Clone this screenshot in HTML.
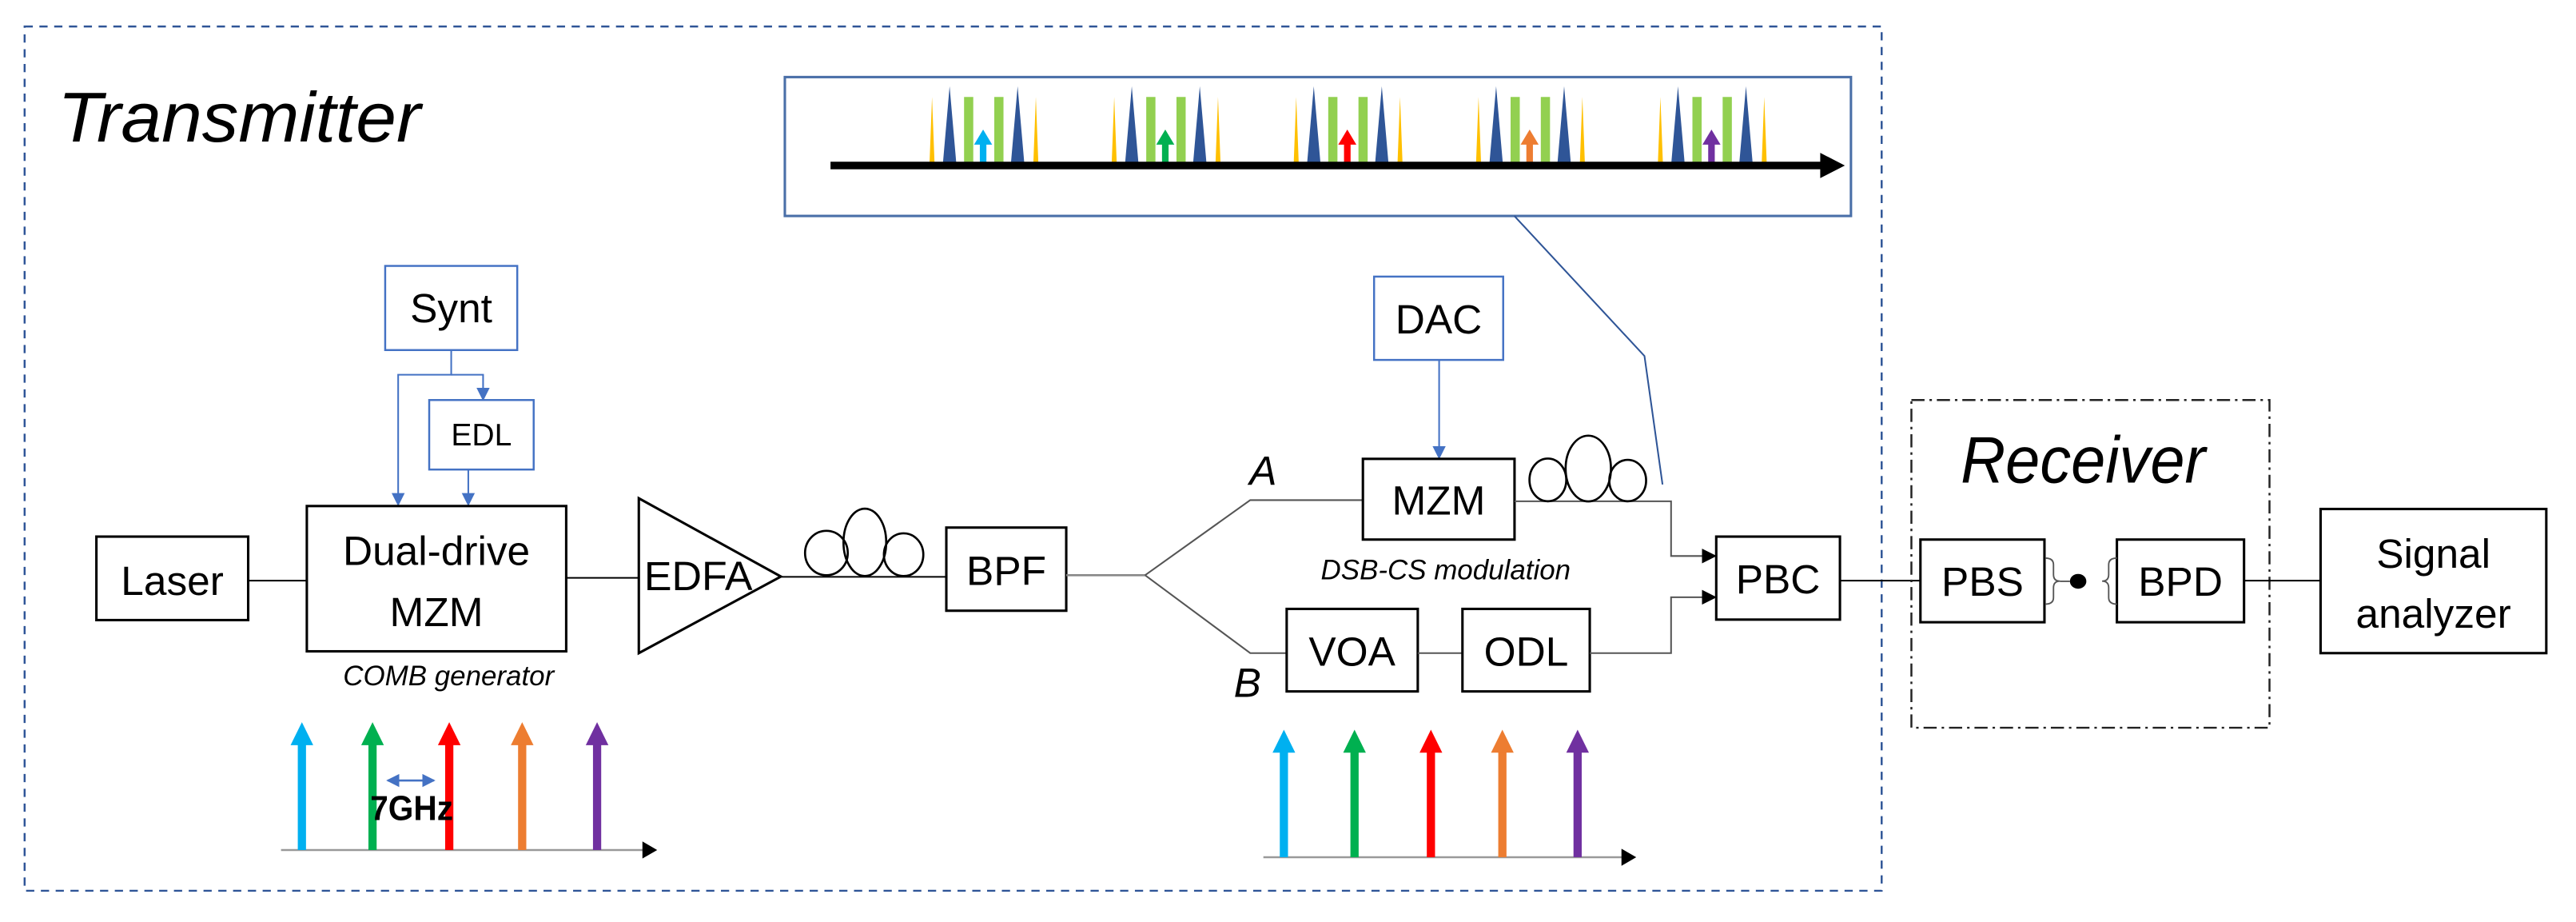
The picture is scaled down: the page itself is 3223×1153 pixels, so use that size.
<!DOCTYPE html>
<html><head><meta charset="utf-8"><style>
html,body{margin:0;padding:0;background:#fff;}
svg{display:block;}
text{font-family:"Liberation Sans",sans-serif;fill:#000;}
.n{font-size:25px;}
.it{font-style:italic;}
</style></head><body>
<svg width="3223" height="1153" viewBox="0 0 1568 561" xmlns="http://www.w3.org/2000/svg">
<defs>
<marker id="ab" markerWidth="8" markerHeight="8" refX="7" refY="4" orient="auto" markerUnits="userSpaceOnUse"><path d="M0,0 L8,4 L0,8 z" fill="#4472c4"/></marker>
<marker id="abs" markerWidth="8" markerHeight="8" refX="1" refY="4" orient="auto" markerUnits="userSpaceOnUse"><path d="M8,0 L0,4 L8,8 z" fill="#4472c4"/></marker>
<marker id="ak" markerWidth="9" markerHeight="9" refX="8" refY="4.5" orient="auto" markerUnits="userSpaceOnUse"><path d="M0,0 L9,4.5 L0,9 z" fill="#000"/></marker>
</defs>
<rect width="1568" height="561" fill="#fff"/>
<!-- outer dashed -->
<rect x="14.9" y="16.1" width="1130.5" height="525.9" fill="none" stroke="#2f5597" stroke-width="1.2" stroke-dasharray="5,4"/>
<text x="35" y="86" font-size="43" class="it" textLength="221" lengthAdjust="spacingAndGlyphs">Transmitter</text>
<!-- inset -->
<rect x="477.7" y="46.9" width="649" height="84.5" fill="none" stroke="#4a6fa8" stroke-width="1.5"/>
<g id="spk">
</g>
<g>
<!-- groups -->
<g transform="translate(567.3,0)">
<polygon points="-1.5,98.5 0,59 1.5,98.5" fill="#ffc000"/><polygon points="6.7,98.5 10.7,52.5 14.7,98.5" fill="#2f5597"/><rect x="19.5" y="59" width="5.6" height="39.5" fill="#92d050"/><rect x="37.9" y="59" width="5.6" height="39.5" fill="#92d050"/><polygon points="48.1,98.5 52.1,52.5 56.1,98.5" fill="#2f5597"/><polygon points="61.7,98.5 63.2,59 64.7,98.5" fill="#ffc000"/>
<polygon points="25.6,88 31.1,78.8 36.6,88" fill="#00b0f0"/><rect x="29.1" y="87" width="4" height="12" fill="#00b0f0"/></g>
<g transform="translate(678.2,0)">
<polygon points="-1.5,98.5 0,59 1.5,98.5" fill="#ffc000"/><polygon points="6.7,98.5 10.7,52.5 14.7,98.5" fill="#2f5597"/><rect x="19.5" y="59" width="5.6" height="39.5" fill="#92d050"/><rect x="37.9" y="59" width="5.6" height="39.5" fill="#92d050"/><polygon points="48.1,98.5 52.1,52.5 56.1,98.5" fill="#2f5597"/><polygon points="61.7,98.5 63.2,59 64.7,98.5" fill="#ffc000"/>
<polygon points="25.6,88 31.1,78.8 36.6,88" fill="#00b050"/><rect x="29.1" y="87" width="4" height="12" fill="#00b050"/></g>
<g transform="translate(789,0)">
<polygon points="-1.5,98.5 0,59 1.5,98.5" fill="#ffc000"/><polygon points="6.7,98.5 10.7,52.5 14.7,98.5" fill="#2f5597"/><rect x="19.5" y="59" width="5.6" height="39.5" fill="#92d050"/><rect x="37.9" y="59" width="5.6" height="39.5" fill="#92d050"/><polygon points="48.1,98.5 52.1,52.5 56.1,98.5" fill="#2f5597"/><polygon points="61.7,98.5 63.2,59 64.7,98.5" fill="#ffc000"/>
<polygon points="25.6,88 31.1,78.8 36.6,88" fill="#ff0000"/><rect x="29.1" y="87" width="4" height="12" fill="#ff0000"/></g>
<g transform="translate(900,0)">
<polygon points="-1.5,98.5 0,59 1.5,98.5" fill="#ffc000"/><polygon points="6.7,98.5 10.7,52.5 14.7,98.5" fill="#2f5597"/><rect x="19.5" y="59" width="5.6" height="39.5" fill="#92d050"/><rect x="37.9" y="59" width="5.6" height="39.5" fill="#92d050"/><polygon points="48.1,98.5 52.1,52.5 56.1,98.5" fill="#2f5597"/><polygon points="61.7,98.5 63.2,59 64.7,98.5" fill="#ffc000"/>
<polygon points="25.6,88 31.1,78.8 36.6,88" fill="#ed7d31"/><rect x="29.1" y="87" width="4" height="12" fill="#ed7d31"/></g>
<g transform="translate(1010.7,0)">
<polygon points="-1.5,98.5 0,59 1.5,98.5" fill="#ffc000"/><polygon points="6.7,98.5 10.7,52.5 14.7,98.5" fill="#2f5597"/><rect x="19.5" y="59" width="5.6" height="39.5" fill="#92d050"/><rect x="37.9" y="59" width="5.6" height="39.5" fill="#92d050"/><polygon points="48.1,98.5 52.1,52.5 56.1,98.5" fill="#2f5597"/><polygon points="61.7,98.5 63.2,59 64.7,98.5" fill="#ffc000"/>
<polygon points="25.6,88 31.1,78.8 36.6,88" fill="#7030a0"/><rect x="29.1" y="87" width="4" height="12" fill="#7030a0"/></g>
</g>
<rect x="505.5" y="98.4" width="605" height="4.6" fill="#000"/>
<polygon points="1108,93 1123,100.7 1108,108.4" fill="#000"/>
<!-- inset connector -->
<polyline points="921.8,131.4 1001,216.6 1012,294.8" fill="none" stroke="#2f5597" stroke-width="1"/>
<!-- Synt / EDL -->
<rect x="234.4" y="161.8" width="80.4" height="51.2" fill="none" stroke="#4472c4" stroke-width="1.2"/>
<text x="274.6" y="196" font-size="25" text-anchor="middle">Synt</text>
<polyline points="274.6,213 274.6,228 242.3,228 242.3,307" fill="none" stroke="#4472c4" stroke-width="1" marker-end="url(#ab)"/>
<polyline points="274.6,228 294,228 294,243" fill="none" stroke="#4472c4" stroke-width="1" marker-end="url(#ab)"/>
<rect x="261.2" y="243.4" width="63.6" height="42.3" fill="none" stroke="#4472c4" stroke-width="1.2"/>
<text x="293" y="271" font-size="19" text-anchor="middle">EDL</text>
<line x1="285" y1="285.7" x2="285" y2="307" stroke="#4472c4" stroke-width="1" marker-end="url(#ab)"/>
<!-- Laser / MZM -->
<rect x="58.6" y="326.5" width="92.4" height="50.8" fill="none" stroke="#000" stroke-width="1.5"/>
<text x="104.8" y="362" class="n" text-anchor="middle">Laser</text>
<line x1="151" y1="353.3" x2="186.7" y2="353.3" stroke="#000" stroke-width="1"/>
<rect x="186.7" y="307.9" width="157.9" height="88.4" fill="none" stroke="#000" stroke-width="1.5"/>
<text x="265.6" y="343.7" class="n" text-anchor="middle">Dual-drive</text>
<text x="265.6" y="381" class="n" text-anchor="middle">MZM</text>
<text x="273" y="417" font-size="17" class="it" text-anchor="middle">COMB generator</text>
<line x1="344.6" y1="351.6" x2="388.8" y2="351.6" stroke="#000" stroke-width="1"/>
<!-- EDFA -->
<polygon points="388.8,303.2 388.8,397.4 475.3,350.8" fill="none" stroke="#000" stroke-width="1.5"/>
<text x="392" y="359" class="n" textLength="66" lengthAdjust="spacingAndGlyphs">EDFA</text>
<line x1="475.3" y1="351" x2="576" y2="351" stroke="#000" stroke-width="1"/>
<ellipse cx="503" cy="336.5" rx="13" ry="13.5" fill="none" stroke="#000" stroke-width="1.3"/>
<ellipse cx="526.4" cy="330" rx="13" ry="20.5" fill="none" stroke="#000" stroke-width="1.3"/>
<ellipse cx="550" cy="337.5" rx="12" ry="13" fill="none" stroke="#000" stroke-width="1.3"/>
<!-- BPF -->
<rect x="576" y="321" width="73" height="50.6" fill="none" stroke="#000" stroke-width="1.5"/>
<text x="612.5" y="356" class="n" text-anchor="middle">BPF</text>
<line x1="649" y1="350" x2="697" y2="350" stroke="#888" stroke-width="1.3"/>
<polyline points="697,350 761,304.3 829.6,304.3" fill="none" stroke="#555" stroke-width="1"/>
<polyline points="697,350 761,397.4 783.2,397.4" fill="none" stroke="#555" stroke-width="1"/>
<text x="760.5" y="295" font-size="25" class="it">A</text>
<text x="751" y="424" font-size="25" class="it">B</text>
<!-- DAC / MZM -->
<rect x="836.4" y="168.3" width="78.6" height="50.7" fill="none" stroke="#4472c4" stroke-width="1.2"/>
<text x="875.7" y="203" class="n" text-anchor="middle">DAC</text>
<line x1="876" y1="219" x2="876" y2="278.5" stroke="#4472c4" stroke-width="1" marker-end="url(#ab)"/>
<rect x="829.6" y="279.2" width="92.3" height="49.1" fill="none" stroke="#000" stroke-width="1.5"/>
<text x="875.7" y="313" class="n" text-anchor="middle">MZM</text>
<text x="880" y="352.6" font-size="17" class="it" text-anchor="middle">DSB-CS modulation</text>
<polyline points="921.9,305 1017.2,305 1017.2,338.3 1044,338.3" fill="none" stroke="#555" stroke-width="1" marker-end="url(#ak)"/>
<ellipse cx="942.2" cy="292" rx="11.2" ry="13" fill="none" stroke="#000" stroke-width="1.3"/>
<ellipse cx="966.8" cy="285.1" rx="13.8" ry="20" fill="none" stroke="#000" stroke-width="1.3"/>
<ellipse cx="990.8" cy="292.4" rx="11.2" ry="12.6" fill="none" stroke="#000" stroke-width="1.3"/>
<!-- VOA ODL -->
<rect x="783.2" y="370.5" width="79.8" height="50.2" fill="none" stroke="#000" stroke-width="1.5"/>
<text x="823" y="405" class="n" text-anchor="middle">VOA</text>
<line x1="863" y1="397.4" x2="890.2" y2="397.4" stroke="#555" stroke-width="1"/>
<rect x="890.2" y="370.5" width="77.5" height="50.2" fill="none" stroke="#000" stroke-width="1.5"/>
<text x="929" y="405" class="n" text-anchor="middle">ODL</text>
<polyline points="967.7,397.4 1017.2,397.4 1017.2,363.4 1044,363.4" fill="none" stroke="#555" stroke-width="1" marker-end="url(#ak)"/>
<!-- PBC -->
<rect x="1044.7" y="326.5" width="75.3" height="50.5" fill="none" stroke="#000" stroke-width="1.5"/>
<text x="1082.3" y="361" class="n" text-anchor="middle">PBC</text>
<line x1="1120" y1="353.3" x2="1169" y2="353.3" stroke="#000" stroke-width="1"/>
<!-- Receiver -->
<rect x="1163.5" y="243.4" width="218" height="199.4" fill="none" stroke="#222" stroke-width="1.2" stroke-dasharray="8,3,1.5,3"/>
<text x="1193.5" y="293.6" font-size="40" class="it" textLength="149" lengthAdjust="spacingAndGlyphs">Receiver</text>
<rect x="1169" y="328.3" width="75.5" height="50.3" fill="none" stroke="#000" stroke-width="1.5"/>
<text x="1206.8" y="362.5" class="n" text-anchor="middle">PBS</text>
<rect x="1288.6" y="328.3" width="77.4" height="50.3" fill="none" stroke="#000" stroke-width="1.5"/>
<text x="1327.3" y="362.5" class="n" text-anchor="middle">BPD</text>
<path d="M1245,339.6 q5,0 5,4 v6 q0,4 4,4 q-4,0 -4,4 v6 q0,4 -5,4" fill="none" stroke="#555" stroke-width="0.9"/>
<path d="M1288.6,339.6 q-5,0 -5,4 v6 q0,4 -4,4 q4,0 4,4 v6 q0,4 5,4" fill="none" stroke="#555" stroke-width="0.9"/>
<line x1="1254" y1="353.7" x2="1260" y2="353.7" stroke="#555" stroke-width="0.9"/>
<ellipse cx="1265" cy="353.7" rx="5" ry="4.5" fill="#000"/>
<line x1="1366" y1="353.3" x2="1412.6" y2="353.3" stroke="#000" stroke-width="1"/>
<rect x="1412.6" y="309.7" width="137.4" height="87.7" fill="none" stroke="#000" stroke-width="1.5"/>
<text x="1481.3" y="345.5" class="n" text-anchor="middle">Signal</text>
<text x="1481.3" y="382" class="n" text-anchor="middle">analyzer</text>
<!-- left spectrum -->
<line x1="171" y1="517.2" x2="392" y2="517.2" stroke="#999" stroke-width="1.2"/>
<polygon points="391,512 400,517.2 391,522.4" fill="#000"/>
<g>
<rect x="181.2" y="452" width="5" height="65.2" fill="#00b0f0"/><polygon points="176.8,453.4 183.7,439.4 190.6,453.4" fill="#00b0f0"/>
<rect x="224.2" y="452" width="5" height="65.2" fill="#00b050"/><polygon points="219.8,453.4 226.7,439.4 233.6,453.4" fill="#00b050"/>
<rect x="270.9" y="452" width="5" height="65.2" fill="#ff0000"/><polygon points="266.5,453.4 273.4,439.4 280.3,453.4" fill="#ff0000"/>
<rect x="315.3" y="452" width="5" height="65.2" fill="#ed7d31"/><polygon points="310.9,453.4 317.8,439.4 324.7,453.4" fill="#ed7d31"/>
<rect x="360.9" y="452" width="5" height="65.2" fill="#7030a0"/><polygon points="356.5,453.4 363.4,439.4 370.3,453.4" fill="#7030a0"/>
</g>
<line x1="236" y1="474.9" x2="264" y2="474.9" stroke="#4472c4" stroke-width="1.3" marker-end="url(#ab)" marker-start="url(#abs)"/>
<text x="225.3" y="499" font-size="21" font-weight="bold" textLength="50.5" lengthAdjust="spacingAndGlyphs">7GHz</text>
<!-- right spectrum -->
<line x1="769" y1="521.6" x2="988" y2="521.6" stroke="#999" stroke-width="1.2"/>
<polygon points="987,516.4 996,521.6 987,526.8" fill="#000"/>
<g>
<rect x="779" y="456" width="5" height="65.6" fill="#00b0f0"/><polygon points="774.6,458 781.5,444 788.4,458" fill="#00b0f0"/>
<rect x="822" y="456" width="5" height="65.6" fill="#00b050"/><polygon points="817.6,458 824.5,444 831.4,458" fill="#00b050"/>
<rect x="868.5" y="456" width="5" height="65.6" fill="#ff0000"/><polygon points="864.1,458 871,444 877.9,458" fill="#ff0000"/>
<rect x="912" y="456" width="5" height="65.6" fill="#ed7d31"/><polygon points="907.6,458 914.5,444 921.4,458" fill="#ed7d31"/>
<rect x="957.8" y="456" width="5" height="65.6" fill="#7030a0"/><polygon points="953.4,458 960.3,444 967.2,458" fill="#7030a0"/>
</g>
</svg>
</body></html>
